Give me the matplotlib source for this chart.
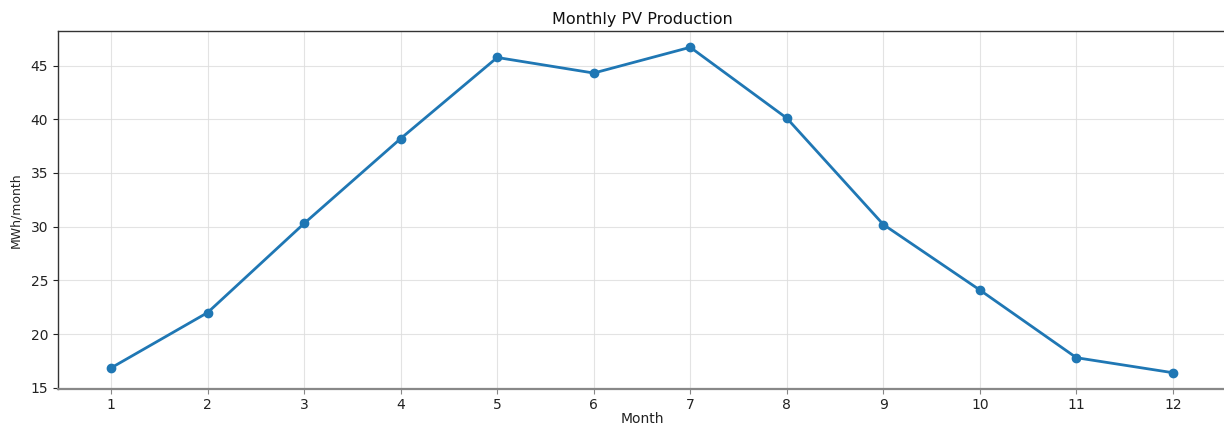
import matplotlib
matplotlib.use("Agg")
import matplotlib.pyplot as plt

months = [1, 2, 3, 4, 5, 6, 7, 8, 9, 10, 11, 12]
production = [16.85, 22.0, 30.3, 38.2, 45.75, 44.3, 46.7, 40.1, 30.2, 24.1, 17.8, 16.4]

fig = plt.figure(figsize=(12.24, 4.29), dpi=100)
ax = fig.add_axes([58/1224, 1 - 389/429, (1226 - 58)/1224, (389 - 31)/429])

ax.plot(months, production, color="#1f77b4", linewidth=2, marker="o", markersize=6)
ax.set_xticks(months)
ax.set_yticks([15, 20, 25, 30, 35, 40, 45])
ax.grid(True, color="#dddddd", linewidth=0.8, alpha=0.8)
ax.set_axisbelow(True)

ax.set_title("Monthly PV Production", fontsize=11.5, color="#111111", pad=5)
ax.set_xlabel("Month", fontsize=10, color="#222222", labelpad=0)
ax.set_ylabel("MWh/month", fontsize=9, color="#222222", labelpad=6)
ax.tick_params(axis="both", labelsize=10, colors="#222222")
ax.tick_params(axis="x", color="#888888", pad=3)

for s in ["top", "left"]:
    ax.spines[s].set_color("#333333")
    ax.spines[s].set_linewidth(1.0)
ax.spines["bottom"].set_color("#888888")
ax.spines["bottom"].set_linewidth(1.6)
ax.spines["right"].set_visible(False)

fig.savefig("out.png", dpi=100)
